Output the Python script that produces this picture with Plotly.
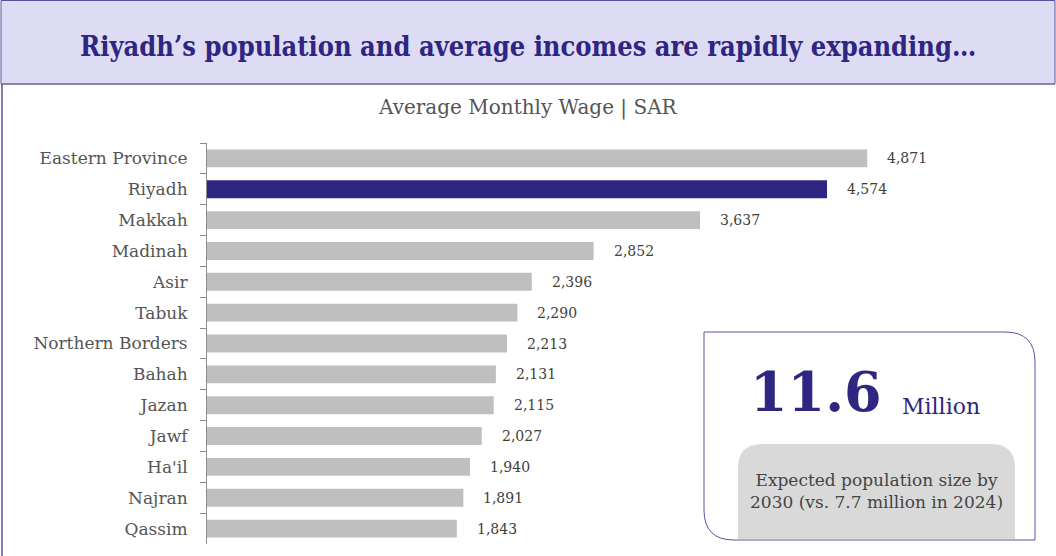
import plotly.graph_objects as go

# data
regions = ['Eastern Province', 'Riyadh', 'Makkah', 'Madinah', 'Asir', 'Tabuk',
           'Northern Borders', 'Bahah', 'Jazan', 'Jawf', "Ha'il", 'Najran', 'Qassim']
wages = [4871, 4574, 3637, 2852, 2396, 2290, 2213, 2131, 2115, 2027, 1940, 1891, 1843]
highlight = 'Riyadh'

W, H = 1056, 556
PURPLE = '#2E2680'
SERIF = 'DejaVu Serif'

def px_x(v):
    return v / W

def px_y(v):
    return 1 - v / H

colors = [PURPLE if r == highlight else '#BFBFBF' for r in regions]

fig = go.Figure(go.Bar(
    x=wages, y=regions, orientation='h',
    marker=dict(color=colors, line=dict(width=0)),
    width=0.58, hoverinfo='x+y'
))

# value labels to the right of each bar
for r, v in zip(regions, wages):
    fig.add_annotation(x=v, y=r, xref='x', yref='y', text=f'{v:,}',
                       showarrow=False, xanchor='left', yanchor='middle', xshift=18,
                       font=dict(family=SERIF, size=14, color='#404040'))

fig.update_layout(
    width=W, height=H,
    margin=dict(l=0, r=0, t=0, b=0),
    paper_bgcolor='white', plot_bgcolor='white',
    showlegend=False,
    xaxis=dict(domain=[px_x(207), px_x(1000)], range=[0, 5850], visible=False),
    yaxis=dict(domain=[px_y(544), px_y(143)], autorange='reversed',
               showline=True, linecolor='#8c8c8c', linewidth=1,
               ticks='outside', tickson='boundaries', ticklen=6, tickcolor='#8c8c8c',
               ticklabelstandoff=15,
               tickfont=dict(family=SERIF, size=17, color='#555555')),
)

shapes = []
# header band
shapes.append(dict(type='rect', xref='paper', yref='paper',
                   x0=px_x(1), x1=px_x(1055), y0=px_y(84), y1=px_y(0.5),
                   fillcolor='#DEDCF4', line=dict(color='#5B52A3', width=1), layer='below'))
shapes.append(dict(type='line', xref='paper', yref='paper',
                   x0=px_x(1), x1=px_x(1055), y0=px_y(84), y1=px_y(84),
                   line=dict(color='#8884B0', width=2)))
# left border
shapes.append(dict(type='line', xref='paper', yref='paper',
                   x0=px_x(2), x1=px_x(2), y0=px_y(84), y1=0,
                   line=dict(color='#5B52A3', width=1.5)))

# callout box with two rounded corners
x0, x1, y0, y1, rad = 704, 1035, 332, 540, 30
path = (f'M {px_x(x0)},{px_y(y0)} L {px_x(x1 - rad)},{px_y(y0)} '
        f'Q {px_x(x1)},{px_y(y0)} {px_x(x1)},{px_y(y0 + rad)} '
        f'L {px_x(x1)},{px_y(y1)} L {px_x(x0 + rad)},{px_y(y1)} '
        f'Q {px_x(x0)},{px_y(y1)} {px_x(x0)},{px_y(y1 - rad)} Z')
shapes.append(dict(type='path', xref='paper', yref='paper', path=path,
                   fillcolor='white', line=dict(color='#5B52A3', width=1)))

# inner grey panel, rounded top corners
gx0, gx1, gy0, gy1, gr = 738, 1015, 444, 539, 24
gpath = (f'M {px_x(gx0)},{px_y(gy1)} L {px_x(gx0)},{px_y(gy0 + gr)} '
         f'Q {px_x(gx0)},{px_y(gy0)} {px_x(gx0 + gr)},{px_y(gy0)} '
         f'L {px_x(gx1 - gr)},{px_y(gy0)} '
         f'Q {px_x(gx1)},{px_y(gy0)} {px_x(gx1)},{px_y(gy0 + gr)} '
         f'L {px_x(gx1)},{px_y(gy1)} Z')
shapes.append(dict(type='path', xref='paper', yref='paper', path=gpath,
                   fillcolor='#D9D9D9', line=dict(width=0)))
fig.update_layout(shapes=shapes)

def note(x, y, text, size, color, xanchor='center', family=SERIF):
    fig.add_annotation(x=px_x(x), y=px_y(y), xref='paper', yref='paper',
                       xanchor=xanchor, yanchor='middle', text=text, showarrow=False,
                       font=dict(family=family, size=size, color=color))

note(528, 46, '<b>Riyadh’s population and average incomes are rapidly expanding…</b>',
     27, PURPLE, family='DejaVu Serif Condensed, ' + SERIF)
note(528, 107, 'Average Monthly Wage | SAR', 20, '#555555')
note(884, 392, '<b>11.6</b>', 54, PURPLE, xanchor='right')
note(900, 406, 'Million', 22, PURPLE, xanchor='left')
note(876, 491, 'Expected population size by<br>2030 (vs. 7.7 million in 2024)', 17, '#444444')

fig.write_html('out.html', config={'displayModeBar': False},
               post_script="document.body.style.margin='0';")
